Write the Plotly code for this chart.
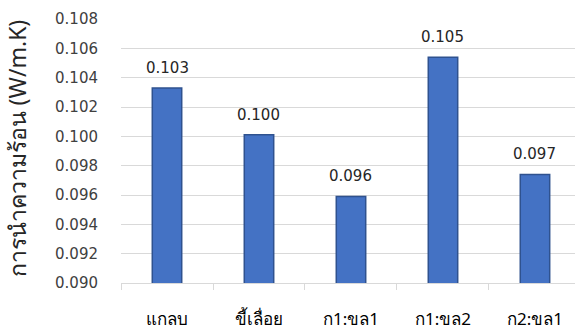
import plotly.graph_objects as go

# Thermal conductivity of each insulation mix
materials = ["แกลบ", "ขี้เลื่อย", "ก1:ขล1", "ก1:ขล2", "ก2:ขล1"]
conductivity = [0.1033, 0.1001, 0.0959, 0.1054, 0.0974]
y_ticks = [0.090, 0.092, 0.094, 0.096, 0.098, 0.100, 0.102, 0.104, 0.106, 0.108]
y_title = "การนำความร้อน (W/m.K)"

fig = go.Figure()
fig.add_trace(go.Bar(
    x=materials,
    y=conductivity,
    width=0.32,
    marker=dict(color="#4472C4", line=dict(color="#2F528F", width=1.5)),
    hoverinfo="x+y",
))

# Value labels above each bar
for m, v in zip(materials, conductivity):
    fig.add_annotation(
        x=m, y=v, text=f"{v:.3f}", showarrow=False,
        yanchor="bottom", yshift=9,
        font=dict(family="DejaVu Sans", size=15, color="#262626"),
    )

# Rotated axis title
fig.add_annotation(
    xref="paper", yref="paper", x=0, y=0.51,
    xshift=-104, text=y_title, textangle=-90, showarrow=False,
    xanchor="center", yanchor="middle",
    font=dict(family="Noto Sans", size=23, color="#262626"),
)

fig.update_layout(
    width=575, height=330,
    margin=dict(l=121, r=0, t=19, b=47),
    plot_bgcolor="white", paper_bgcolor="white",
    showlegend=False,
    bargap=0.68,
)
fig.update_xaxes(
    type="category",
    range=[-0.5, 4.435],
    showline=True, linecolor="#D9D9D9", linewidth=1,
    ticks="outside", tickson="boundaries", ticklen=6, tickcolor="#D9D9D9",
    tickfont=dict(family="Noto Sans", size=17, color="#000000"),
    ticklabelstandoff=21,
    showgrid=False,
)
fig.update_yaxes(
    range=[0.090, 0.108],
    tickvals=y_ticks,
    tickformat=".3f",
    showgrid=True, gridcolor="#D9D9D9", gridwidth=1,
    zeroline=False, showline=False,
    ticks="", ticklabelstandoff=22,
    tickfont=dict(family="DejaVu Sans", size=15, color="#404040"),
)

fig.write_html("out.html")
